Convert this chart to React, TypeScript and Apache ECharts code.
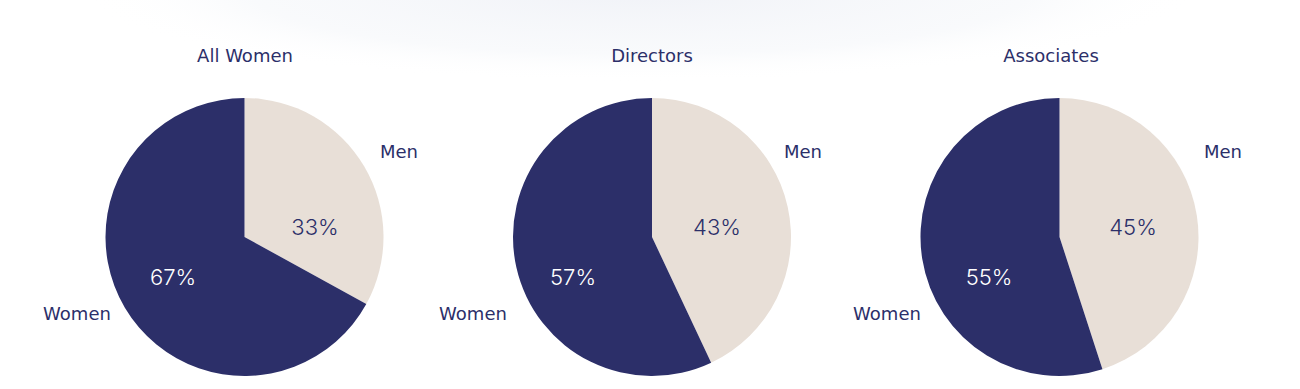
import React, { useEffect, useRef } from "react";
import * as echarts from "echarts";

// ---- data ----
const chartTitles = ["All Women", "Directors", "Associates"];
const categories = ["Men", "Women"];
const menShare = [33, 43, 45];
const womenShare = [67, 57, 55];

// ---- layout / style ----
const NAVY = "#2c2f69";
const BEIGE = "#e8dfd7";
const FONT = "'DejaVu Sans', 'Noto Sans', sans-serif";
const PCT_FONT = "Inter, 'Open Sans', sans-serif";
const pieCenters = [
  [244.5, 237],
  [652, 237],
  [1059.5, 237],
];
const RADIUS = 139;
const titleCenters = [245, 652, 1051];
// label anchor points: [men name, women name], [men pct, women pct]
const labelAnchors = [
  { name: [[399, 151], [77, 313]], pct: [[315, 227], [173, 277]] },
  { name: [[803, 151], [473, 313]], pct: [[717, 227], [573, 277]] },
  { name: [[1223, 151], [887, 313]], pct: [[1133, 227], [989, 277]] },
];

export default function App() {
  const ref = useRef<HTMLDivElement>(null);
  useEffect(() => {
    if (!ref.current) return;
    const chart = echarts.init(ref.current, undefined, { renderer: "svg" });
    const series: any[] = [];
    chartTitles.forEach((_, i) => {
      const data = [
        { name: categories[0], value: menShare[i], itemStyle: { color: BEIGE } },
        { name: categories[1], value: womenShare[i], itemStyle: { color: NAVY } },
      ];
      // sectors + percent labels
      series.push({
        type: "pie",
        center: pieCenters[i],
        radius: RADIUS,
        startAngle: 90,
        clockwise: true,
        silent: true,
        data: data.map((d, k) => ({
          ...d,
          label: {
            color: k === 0 ? NAVY : "#ffffff",
          },
        })),
        label: {
          show: true,
          position: "inside",
          formatter: "{c}%",
          fontFamily: PCT_FONT,
          fontSize: 22,
          fontWeight: 300,
        },
        labelLine: { show: false },
        labelLayout: (p: any) => {
          const pt = labelAnchors[i].pct[p.dataIndex];
          return { x: pt[0], y: pt[1], align: "center", verticalAlign: "middle" };
        },
      });
      // category name labels
      series.push({
        type: "pie",
        center: pieCenters[i],
        radius: RADIUS,
        startAngle: 90,
        clockwise: true,
        silent: true,
        z: 3,
        data: data.map((d) => ({ name: d.name, value: d.value })),
        itemStyle: { color: "rgba(0,0,0,0)" },
        label: {
          show: true,
          position: "inside",
          overflow: "none",
          formatter: "{b}",
          color: NAVY,
          fontFamily: FONT,
          fontSize: 18,
        },
        labelLine: { show: false },
        labelLayout: (p: any) => {
          const pt = labelAnchors[i].name[p.dataIndex];
          return { x: pt[0], y: pt[1], align: "center", verticalAlign: "middle" };
        },
      });
    });

    chart.setOption({
      animation: false,
      backgroundColor: "#ffffff",
      title: chartTitles.map((t, i) => ({
        text: t,
        left: titleCenters[i],
        top: 46,
        textAlign: "center",
        padding: 0,
        textStyle: {
          color: NAVY,
          fontFamily: FONT,
          fontSize: 18,
          fontWeight: 400,
        },
      })),
      graphic: [
        {
          type: "ellipse",
          z: -10,
          shape: { cx: 640, cy: -10, rx: 560, ry: 92 },
          style: {
            fill: {
              type: "radial",
              x: 0.5,
              y: 0.5,
              r: 0.5,
              colorStops: [
                { offset: 0, color: "rgba(238,240,246,0.85)" },
                { offset: 0.7, color: "rgba(245,247,250,0.6)" },
                { offset: 1, color: "rgba(255,255,255,0)" },
              ],
            },
          },
          silent: true,
        },
      ],
      series,
    });
    return () => chart.dispose();
  }, []);
  return (
    <div
      ref={ref}
      style={{ position: "fixed", left: 0, top: 0, width: 1300, height: 389 }}
    />
  );
}
